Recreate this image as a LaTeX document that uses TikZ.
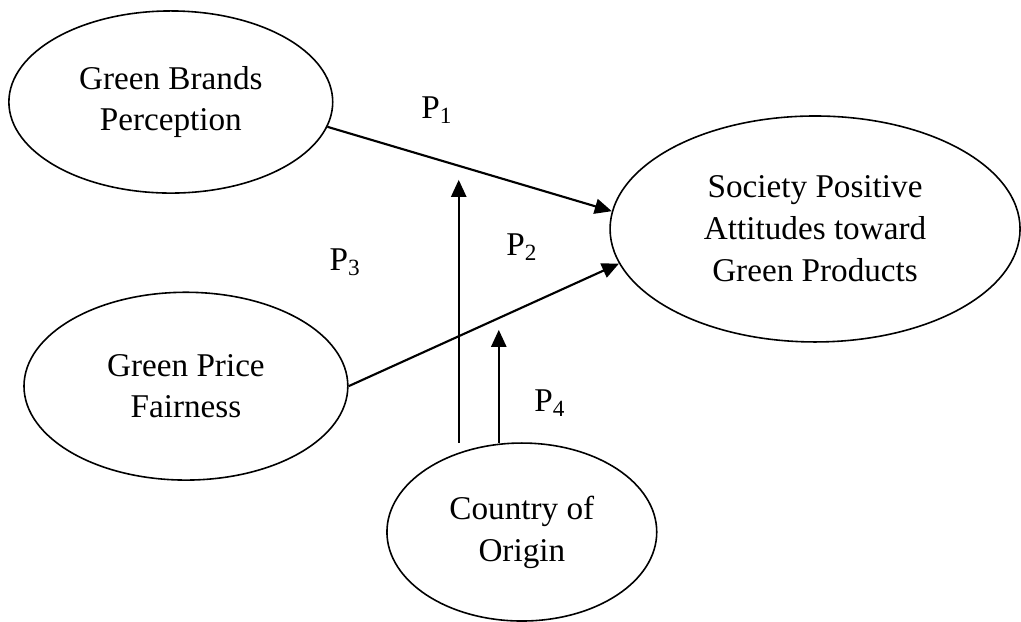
\documentclass[tikz,border=0pt]{standalone}
\usepackage{fontspec}
\setmainfont{Liberation Serif}
\usetikzlibrary{arrows.meta,calc,positioning,shapes.geometric}
\tikzset{
  constructnode/.style={draw=black,ellipse,line width=1.2pt,inner sep=0pt,align=center,
    font=\fontsize{25}{31.5}\selectfont},
  constructarrow/.style={draw=black,line width=1.6pt,-{Triangle[length=4.5mm,width=4mm]}},
  pathlabel/.style={font=\fontsize{25}{30}\selectfont},
}
\begin{document}
\begin{tikzpicture}[x=1cm,y=1cm]
        \path[use as bounding box] (0,0) rectangle (27.02,16.46);
        \node[constructnode,minimum width=8.57cm,minimum height=4.82cm] (gbp) at (4.52,13.76) {Green Brands\\Perception};
        \node[constructnode,minimum width=8.57cm,minimum height=4.97cm] (gpf) at (4.92,6.24) {Green Price\\Fairness};
        \node[constructnode,minimum width=10.85cm,minimum height=5.98cm] (spa) at (21.57,10.40) {Society Positive\\Attitudes toward\\Green Products};
        \node[constructnode,minimum width=7.14cm,minimum height=4.71cm] (coo) at (13.81,2.38) {Country of\\Origin};
        % moderation arrows, free ends
        \coordinate (m1a) at (12.14,4.74);
        \coordinate (m1b) at (12.14,11.70);
        \coordinate (m2a) at (13.20,4.74);
        \coordinate (m2b) at (13.20,7.73);
        \draw[constructarrow] (gbp.-9.5) -- (spa.175);
        \draw[constructarrow] (gpf.east) -- (spa.190);
        \draw[constructarrow] (m1a) -- (m1b);
        \draw[constructarrow] (m2a) -- (m2b);
        \foreach \n/\x/\y in {1/11.56/13.55,2/13.81/9.92,3/9.13/9.53,4/14.55/5.79}
          {\node[pathlabel] (p\n) at (\x,\y) {P\textsubscript{\n}};}
      \end{tikzpicture}
\end{document}
